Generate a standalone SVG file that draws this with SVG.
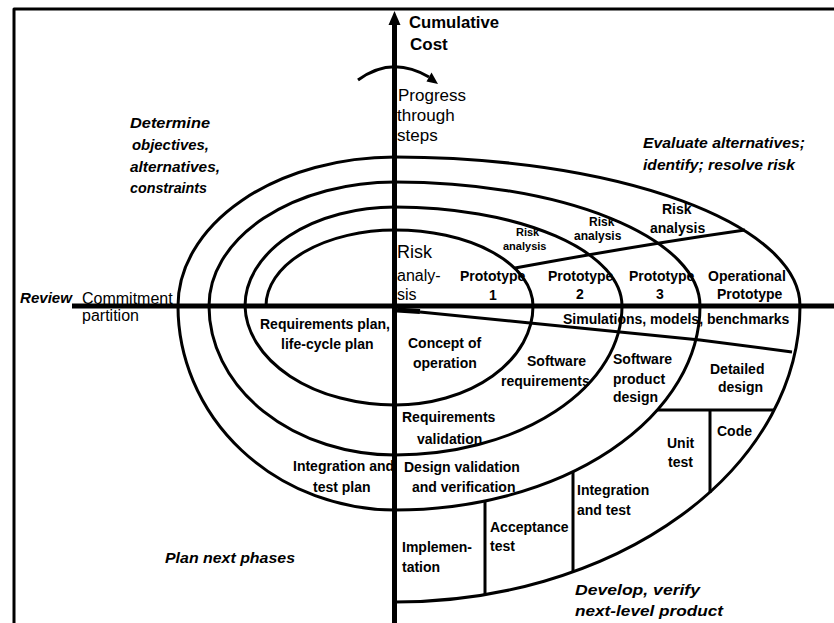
<svg xmlns="http://www.w3.org/2000/svg" width="834" height="623" viewBox="0 0 834 623">
  <style>
    .ln{fill:none;stroke:#000;stroke-width:3;stroke-linejoin:round}
    .ax{fill:none;stroke:#000;stroke-width:5}
    text{font-family:"Liberation Sans",Arial,sans-serif;fill:#000}
    .lb{font-size:14px;font-weight:bold}
    .sm{font-size:12px;font-weight:bold}
    .xs{font-size:11px;font-weight:bold}
    .rg{font-size:16px}
    .it{font-size:15px;font-weight:bold;font-style:italic}
    .hd{font-size:17px;font-weight:bold}
  </style>
  <rect width="834" height="623" fill="#fff"/>

  <!-- outer frame -->
  <path class="ln" d="M14,623 V9 H834"/>

  <!-- axes, spiral and region dividers -->
  <g id="connectors">
    <line class="ax" x1="72" y1="306" x2="834" y2="306"/>
    <line class="ax" x1="394.5" y1="22" x2="394.5" y2="623"/>
    <polygon points="394.5,11 388.5,25 400.5,25"/>

    <!-- the spiral, one elliptical quarter per quadrant -->
    <path id="spiral" class="ln" d="M266,306 A129,76 0 0 1 395,230 A138,76 0 0 1 533,306 A138,99 0 0 1 395,405 A150,101 0 0 1 245,306
      A150,99 0 0 1 395,207 A227,99 0 0 1 622,306 A227,149 0 0 1 395,455 A186,149 0 0 1 209,306
      A186,124 0 0 1 395,182 A305,124 0 0 1 700,306 A305,204 0 0 1 395,510 A217,204 0 0 1 178,306
      A217,149 0 0 1 395,157 A405,149 0 0 1 800,306 A405,296 0 0 1 395,602"/>

    <!-- progress arrow -->
    <path class="ln" stroke-width="2.5" d="M358,80 Q392,55 429,77"/>
    <polygon points="438,84 426.5,81.5 431.5,72.5"/>

    <!-- dividers -->
    <path class="ln" d="M515,268 Q640,245 745,230"/>
    <line x1="397" y1="310" x2="420" y2="311.5" stroke="#000" stroke-width="5"/>
    <polyline class="ln" points="420,312 530,323 620,332 700,340 792,352"/>
    <path class="ln" d="M657,410 H774"/>
    <path class="ln" d="M710,410 V493"/>
    <path class="ln" d="M573,472 V571"/>
    <path class="ln" d="M485,501 V595"/>
  </g>

  <g id="axis-cost"><text class="hd" x="409" y="28" textLength="90" lengthAdjust="spacingAndGlyphs">Cumulative</text><text class="hd" x="410" y="50">Cost</text></g>
  <g id="progress"><text style="font-size:17px" x="398" y="101">Progress</text><text style="font-size:17px" x="397" y="121">through</text><text style="font-size:17px" x="397" y="141">steps</text></g>

  <g id="q-objectives">
    <text class="it" x="130" y="128" textLength="80" lengthAdjust="spacingAndGlyphs">Determine</text>
    <text class="it" x="132" y="150" textLength="77" lengthAdjust="spacingAndGlyphs">objectives,</text>
    <text class="it" x="130" y="172" textLength="90" lengthAdjust="spacingAndGlyphs">alternatives,</text>
    <text class="it" x="130" y="193" textLength="77" lengthAdjust="spacingAndGlyphs">constraints</text>
  </g>
  <g id="q-evaluate">
    <text class="it" x="643" y="148" textLength="162" lengthAdjust="spacingAndGlyphs">Evaluate alternatives;</text>
    <text class="it" x="643" y="170" textLength="152" lengthAdjust="spacingAndGlyphs">identify; resolve risk</text>
  </g>
  <g id="q-plan"><text class="it" x="165" y="563" textLength="130" lengthAdjust="spacingAndGlyphs">Plan next phases</text></g>
  <g id="q-develop">
    <text class="it" x="575" y="595" textLength="125" lengthAdjust="spacingAndGlyphs">Develop, verify</text>
    <text class="it" x="575" y="616" textLength="148" lengthAdjust="spacingAndGlyphs">next-level product</text>
  </g>

  <g id="review"><text class="it" x="20" y="303" textLength="52" lengthAdjust="spacingAndGlyphs">Review</text></g>
  <g id="commitment"><text class="rg" x="82" y="304">Commitment</text><text class="rg" x="82" y="321">partition</text></g>

  <g id="risk-analysis-0"><text style="font-size:18px" x="397" y="258">Risk</text><text class="rg" x="397" y="281">analy-</text><text class="rg" x="397" y="300">sis</text></g>
  <g id="risk-analysis-1"><text class="xs" x="516" y="236">Risk</text><text class="xs" x="503" y="250">analysis</text></g>
  <g id="risk-analysis-2"><text class="sm" x="589" y="226">Risk</text><text class="sm" x="574" y="240">analysis</text></g>
  <g id="risk-analysis-3"><text class="lb" x="662" y="214">Risk</text><text class="lb" x="650" y="233">analysis</text></g>

  <g id="prototype-1"><text class="lb" x="460" y="281">Prototype</text><text class="lb" x="489" y="300">1</text></g>
  <g id="prototype-2"><text class="lb" x="548" y="281">Prototype</text><text class="lb" x="576" y="299">2</text></g>
  <g id="prototype-3"><text class="lb" x="629" y="281">Prototype</text><text class="lb" x="656" y="299">3</text></g>
  <g id="prototype-op"><text class="lb" x="708" y="281">Operational</text><text class="lb" x="717" y="299">Prototype</text></g>

  <g id="simulations"><text class="lb" x="563" y="324">Simulations, models, benchmarks</text></g>
  <g id="req-plan"><text class="lb" x="260" y="329">Requirements plan,</text><text class="lb" x="281" y="349">life-cycle plan</text></g>
  <g id="concept"><text class="lb" x="408" y="348">Concept of</text><text class="lb" x="413" y="368">operation</text></g>
  <g id="sw-req"><text class="lb" x="527" y="366">Software</text><text class="lb" x="501" y="386">requirements</text></g>
  <g id="sw-design"><text class="lb" x="613" y="364">Software</text><text class="lb" x="613" y="384">product</text><text class="lb" x="613" y="402">design</text></g>
  <g id="detailed-design"><text class="lb" x="710" y="374">Detailed</text><text class="lb" x="718" y="392">design</text></g>
  <g id="req-validation"><text class="lb" x="402" y="422">Requirements</text><text class="lb" x="417" y="444">validation</text></g>
  <g id="code"><text class="lb" x="717" y="436">Code</text></g>
  <g id="unit-test"><text class="lb" x="667" y="448">Unit</text><text class="lb" x="668" y="467">test</text></g>
  <g id="design-vv"><text class="lb" x="404" y="472">Design validation</text><text class="lb" x="412" y="492">and verification</text></g>
  <g id="int-test-plan"><text class="lb" x="293" y="471">Integration and</text><text class="lb" x="313" y="492">test plan</text></g>
  <g id="int-test"><text class="lb" x="577" y="495">Integration</text><text class="lb" x="577" y="515">and test</text></g>
  <g id="acceptance"><text class="lb" x="490" y="532">Acceptance</text><text class="lb" x="490" y="551">test</text></g>
  <g id="implementation"><text class="lb" x="402" y="552">Implemen-</text><text class="lb" x="402" y="572">tation</text></g>
</svg>
